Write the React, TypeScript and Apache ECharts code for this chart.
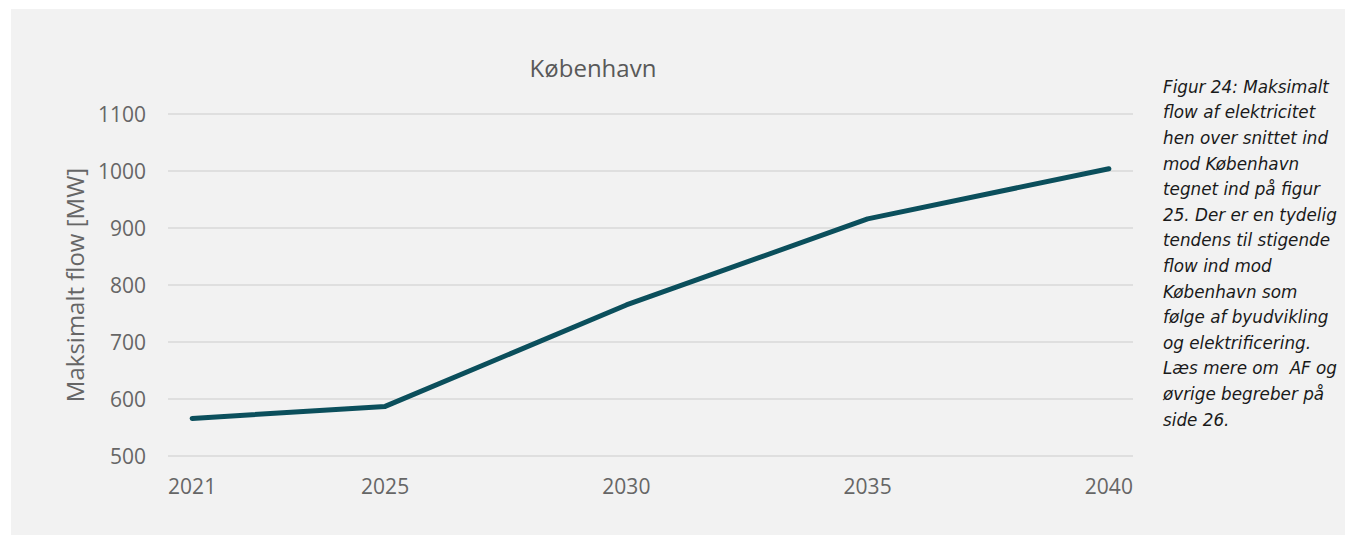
import React, { useEffect, useRef } from "react";
import * as echarts from "echarts";

const years = [2021, 2025, 2030, 2035, 2040];
const flowMW = [566, 587, 765, 916, 1004];
const yTicks = [500, 600, 700, 800, 900, 1000, 1100];
const title = "København";
const yName = "Maksimalt flow [MW]";
const caption = [
  "Figur 24: Maksimalt",
  "flow af elektricitet",
  "hen over snittet ind",
  "mod København",
  "tegnet ind på figur",
  "25. Der er en tydelig",
  "tendens til stigende",
  "flow ind mod",
  "København som",
  "følge af byudvikling",
  "og elektrificering.",
  "Læs mere om  AF og",
  "øvrige begreber på",
  "side 26.",
];

export default function App() {
  const ref = useRef<HTMLDivElement>(null);
  useEffect(() => {
    if (!ref.current) return;
    const chart = echarts.init(ref.current, null, { renderer: "svg" });
    const font = "'Open Sans', 'Noto Sans', sans-serif";
    chart.setOption({
      animation: false,
      backgroundColor: "#ffffff",
      graphic: [
        {
          type: "rect",
          z: -10,
          silent: true,
          shape: { x: 11, y: 9, width: 1345 - 11, height: 535 - 9 },
          style: { fill: "#f2f2f2" },
        },
        {
          type: "text",
          left: 1163,
          top: 74,
          style: {
            text: caption.join("\n"),
            fontFamily: "'DejaVu Sans', sans-serif",
            fontStyle: "italic",
            fontSize: 16.8,
            lineHeight: 25.6,
            fill: "#1a1a1a",
          },
        },
      ],
      title: {
        text: title,
        left: 588,
        top: 50,
        textAlign: "center",
        textStyle: { fontFamily: font, fontSize: 24, fontWeight: "normal", color: "#595959" },
      },
      grid: { left: 168, right: 212, top: 114, bottom: 79, containLabel: false },
      xAxis: {
        type: "value",
        min: 2020.5,
        max: 2040.5,
        axisLine: { show: false },
        axisTick: { show: false },
        splitLine: { show: false },
        axisLabel: {
          customValues: years,
          formatter: (v: number) => String(v),
          color: "#666666",
          fontFamily: font,
          fontSize: 21,
          margin: 19,
        },
      },
      yAxis: {
        type: "value",
        min: 500,
        max: 1100,
        interval: 100,
        name: yName,
        nameLocation: "middle",
        nameGap: 82,
        nameTextStyle: { fontFamily: font, fontSize: 24, color: "#666666" },
        axisLine: { show: false },
        axisTick: { show: false },
        splitLine: { lineStyle: { color: "#d9d9d9", width: 1.5 } },
        axisLabel: {
          customValues: yTicks,
          formatter: (v: number) => String(v),
          color: "#666666",
          fontFamily: font,
          fontSize: 21,
          margin: 22,
        },
      },
      series: [
        {
          type: "line",
          data: years.map((y, i) => [y, flowMW[i]]),
          symbol: "none",
          lineStyle: { color: "#0b4f5c", width: 5, cap: "round", join: "round" },
        },
      ],
    });
    return () => chart.dispose();
  }, []);
  return (
    <div
      ref={ref}
      style={{ position: "absolute", left: 0, top: 0, width: 1345, height: 535 }}
    />
  );
}
